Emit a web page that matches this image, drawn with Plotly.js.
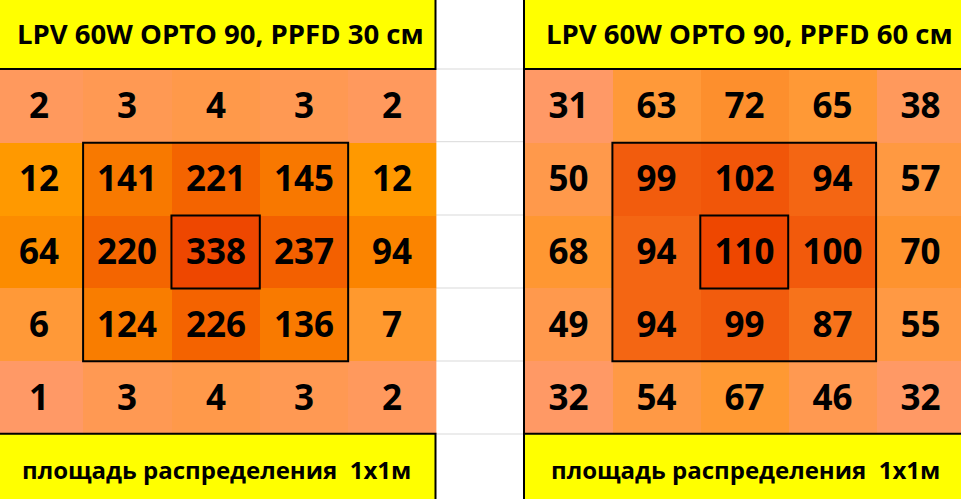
<!DOCTYPE html>
<html>
<head>
<meta charset="utf-8">
<script src="https://cdn.plot.ly/plotly-3.0.1.min.js"></script>
<style>
html,body{margin:0;padding:0;background:#fff;}
#chart{width:961px;height:499px;}
</style>
</head>
<body>
<div id="chart"></div>
<script>
// ---- data ----
const cols = [0, 1, 2, 3, 4];
const rows = [0, 1, 2, 3, 4];
const ppfd30 = [
  [2, 3, 4, 3, 2],
  [12, 141, 221, 145, 12],
  [64, 220, 338, 237, 94],
  [6, 124, 226, 136, 7],
  [1, 3, 4, 3, 2]
];
const ppfd60 = [
  [31, 63, 72, 65, 38],
  [50, 99, 102, 94, 57],
  [68, 94, 110, 100, 70],
  [49, 94, 99, 87, 55],
  [32, 54, 67, 46, 32]
];
const headerTitles = ["LPV 60W OPTO 90, PPFD 30 см", "LPV 60W OPTO 90, PPFD 60 см"];
const footerTexts = ["площадь распределения\u00a0\u00a01x1м", "площадь распределения\u00a0\u00a01x1м"];

// ---- styling helpers ----
const W = 961, H = 499;
const px = x => x / W;
const py = y => 1 - y / H;
const FONT = "Open Sans, Liberation Sans, Arial, sans-serif";

function scale3(z, cMin, cMid, cMax) {
  const flat = z.flat().slice().sort((a, b) => a - b);
  const mn = flat[0], mx = flat[flat.length - 1];
  const med = flat[Math.floor(flat.length / 2)];
  const m = (med - mn) / (mx - mn);
  return {zmin: mn, zmax: mx, colorscale: [[0, cMin], [m, cMid], [1, cMax]]};
}

function heat(z, xa, ya, sc) {
  return {
    type: 'heatmap', x: cols, y: rows, z: z, xaxis: xa, yaxis: ya,
    zmin: sc.zmin, zmax: sc.zmax, colorscale: sc.colorscale, showscale: false,
    texttemplate: '%{z}', hoverinfo: 'skip',
    textfont: {family: FONT, size: 35, color: '#000000', weight: 'bold'}
  };
}

const sc1 = scale3(ppfd30, '#FF9966', '#FF9900', '#EE4700');
const sc2 = scale3(ppfd60, '#FF9966', '#FF9933', '#EE4700');

const gridTop = 70, gridBot = 434;
const yDom = [py(gridBot), py(gridTop)];

const shapes = [];
// gap gridlines
[69, 141.7, 215, 288, 361, 434].forEach(y => {
  shapes.push({type: 'line', xref: 'paper', yref: 'paper', x0: px(436), x1: px(524), y0: py(y), y1: py(y),
    line: {color: '#D9D9D9', width: 1}, layer: 'below'});
});
// headers and footers
shapes.push({type: 'rect', xref: 'paper', yref: 'paper', x0: px(-5), x1: px(435.5), y0: py(-5), y1: py(69),
  fillcolor: '#FFFF00', line: {color: '#000', width: 2}});
shapes.push({type: 'rect', xref: 'paper', yref: 'paper', x0: px(524), x1: px(966), y0: py(-5), y1: py(69),
  fillcolor: '#FFFF00', line: {color: '#000', width: 2}});
shapes.push({type: 'rect', xref: 'paper', yref: 'paper', x0: px(-5), x1: px(435.5), y0: py(433.7), y1: py(505),
  fillcolor: '#FFFF00', line: {color: '#000', width: 2}});
shapes.push({type: 'rect', xref: 'paper', yref: 'paper', x0: px(524), x1: px(966), y0: py(433.7), y1: py(505),
  fillcolor: '#FFFF00', line: {color: '#000', width: 2}});
// right panel left border
shapes.push({type: 'line', xref: 'paper', yref: 'paper', x0: px(524), x1: px(524), y0: py(0), y1: py(499),
  line: {color: '#000', width: 2}});
// inner boxes
[['x', 'y'], ['x2', 'y2']].forEach(([xr, yr]) => {
  shapes.push({type: 'rect', xref: xr, yref: yr, x0: 0.5, x1: 3.5, y0: 0.5, y1: 3.5, line: {color: '#000', width: 2}});
  shapes.push({type: 'rect', xref: xr, yref: yr, x0: 1.5, x1: 2.5, y0: 1.5, y1: 2.5, line: {color: '#000', width: 2}});
});

const annotations = [
  {text: headerTitles[0], x: px(220), y: py(34)},
  {text: headerTitles[1], x: px(749), y: py(34)}
].map(a => Object.assign(a, {xref: 'paper', yref: 'paper', showarrow: false, xanchor: 'center', yanchor: 'middle',
  font: {family: FONT, size: 27.5, color: '#000', weight: 'bold'}}));
[
  {text: footerTexts[0], x: px(216), y: py(469)},
  {text: footerTexts[1], x: px(745), y: py(469)}
].forEach(a => annotations.push(Object.assign(a, {xref: 'paper', yref: 'paper', showarrow: false,
  xanchor: 'center', yanchor: 'middle', font: {family: FONT, size: 24, color: '#000', weight: 'bold'}})));

const axBase = {visible: false, showgrid: false, zeroline: false, fixedrange: true};
const layout = {
  width: W, height: H,
  margin: {l: 0, r: 0, t: 0, b: 0, pad: 0},
  paper_bgcolor: '#FFFFFF', plot_bgcolor: 'rgba(0,0,0,0)',
  showlegend: false,
  xaxis: Object.assign({}, axBase, {domain: [0, px(436.5)], range: [-0.5 + 5.25 / 88.25, 4.5]}),
  yaxis: Object.assign({}, axBase, {domain: yDom, range: [4.5, -0.5]}),
  xaxis2: Object.assign({}, axBase, {domain: [px(524.5), 1], range: [-0.5, 4.5 - 3 / 88]}),
  yaxis2: Object.assign({}, axBase, {domain: yDom, range: [4.5, -0.5]}),
  shapes: shapes,
  annotations: annotations
};

Plotly.newPlot('chart', [heat(ppfd30, 'x', 'y', sc1), heat(ppfd60, 'x2', 'y2', sc2)], layout,
  {staticPlot: true, displayModeBar: false});
</script>
</body>
</html>
